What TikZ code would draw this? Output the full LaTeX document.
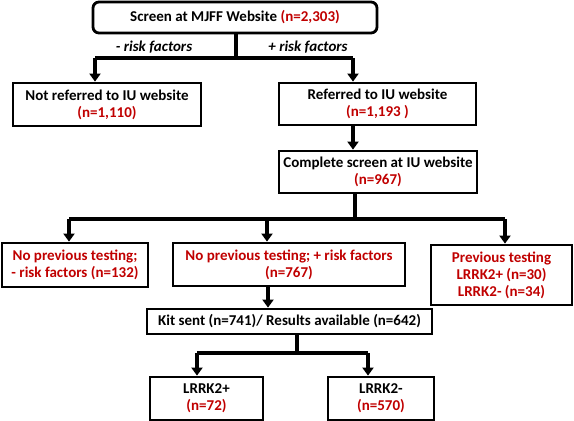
\documentclass[tikz,border=0pt]{standalone}
\usepackage{fontspec}
\setmainfont{Carlito}
\usepackage{xcolor}
\usetikzlibrary{arrows.meta}

\definecolor{rot}{HTML}{C00000}
\newcommand{\nz}[1]{\textcolor{rot}{#1}}

\tikzset{
  box/.style={draw, line width=2.8pt, align=center, inner sep=0pt,
    font=\fontsize{15}{17}\selectfont\bfseries},
  link/.style={line width=3.4pt},
  arr/.style={line width=3.4pt, -{Triangle[length=8pt,width=11pt]}},
  lbl/.style={font=\fontsize{15}{17}\selectfont\bfseries\itshape}
}

\begin{document}
\begin{tikzpicture}[x=1pt,y=-1pt]
\useasboundingbox (0,0) rectangle (574,421);
% Kaesten:
\node[box, rounded corners=6pt, minimum width=284pt, minimum height=31pt] (screen) at (235,17.5) {Screen at MJFF Website \nz{(n=2,303)}};
\node[box, minimum width=188pt, minimum height=43pt] (notref) at (107,104.5) {Not referred to IU website\\ \nz{(n=1,110)}};
\node[box, minimum width=197pt, minimum height=42pt] (ref) at (377.5,104) {Referred to IU website\\ \nz{(n=1,193 )}};
\node[box, minimum width=198pt, minimum height=42pt] (complete) at (378,172) {Complete screen at IU website\\ \nz{(n=967)}};
\node[box, minimum width=146pt, minimum height=44pt, text=rot] (noprevminus) at (75,265) {No previous testing;\\ - risk factors (n=132)};
\node[box, minimum width=232pt, minimum height=43pt, text=rot] (noprevplus) at (289,264.5) {No previous testing; + risk factors\\ (n=767)};
\node[box, minimum width=141pt, minimum height=60pt, text=rot] (prev) at (501.5,275) {Previous testing\\ LRRK2+ (n=30)\\ LRRK2- (n=34)};
\node[box, minimum width=285pt, minimum height=25pt] (kit) at (289.5,321.5) {Kit sent (n=741)/ Results available (n=642)};
\node[box, minimum width=113pt, minimum height=43pt] (pos) at (206.5,398.5) {LRRK2+\\ \nz{(n=72)}};
\node[box, minimum width=106pt, minimum height=43pt] (neg) at (381,398.5) {LRRK2-\\ \nz{(n=570)}};
% Verzweigungspunkte:
\coordinate (ja) at (95,58);
\coordinate (jb) at (353,58);
\coordinate (jc) at (69,219);
\coordinate (jd) at (267,219);
\coordinate (je) at (505,219);
\coordinate (jf) at (197,353);
\coordinate (jg) at (368,353);
% erste Verzweigung:
\draw[link] (screen.south -| 236,0) -- (236,58);
\draw[link] (ja) -- (jb);
\draw[arr] (ja) -- (ja |- notref.north);
\draw[arr] (jb) -- (jb |- ref.north);
\node[lbl] (minus) at (154,47) {- risk factors};
\node[lbl] (plus) at (308,47) {+ risk factors};
\draw[arr] (ref.south -| jb) -- (complete.north -| jb);
% zweite Verzweigung:
\draw[link] (complete.south -| 355,0) -- (355,219);
\draw[link] (jc) -- (je);
\draw[arr] (jc) -- (jc |- noprevminus.north);
\draw[arr] (jd) -- (jd |- noprevplus.north);
\draw[arr] (je) -- (je |- prev.north);
\draw[arr] (noprevplus.south -| 268,0) -- (kit.north -| 268,0);
% dritte Verzweigung:
\draw[link] (kit.south -| 297,0) -- (297,353);
\draw[link] (jf) -- (jg);
\draw[arr] (jf) -- (jf |- pos.north);
\draw[arr] (jg) -- (jg |- neg.north);
\end{tikzpicture}
\end{document}
